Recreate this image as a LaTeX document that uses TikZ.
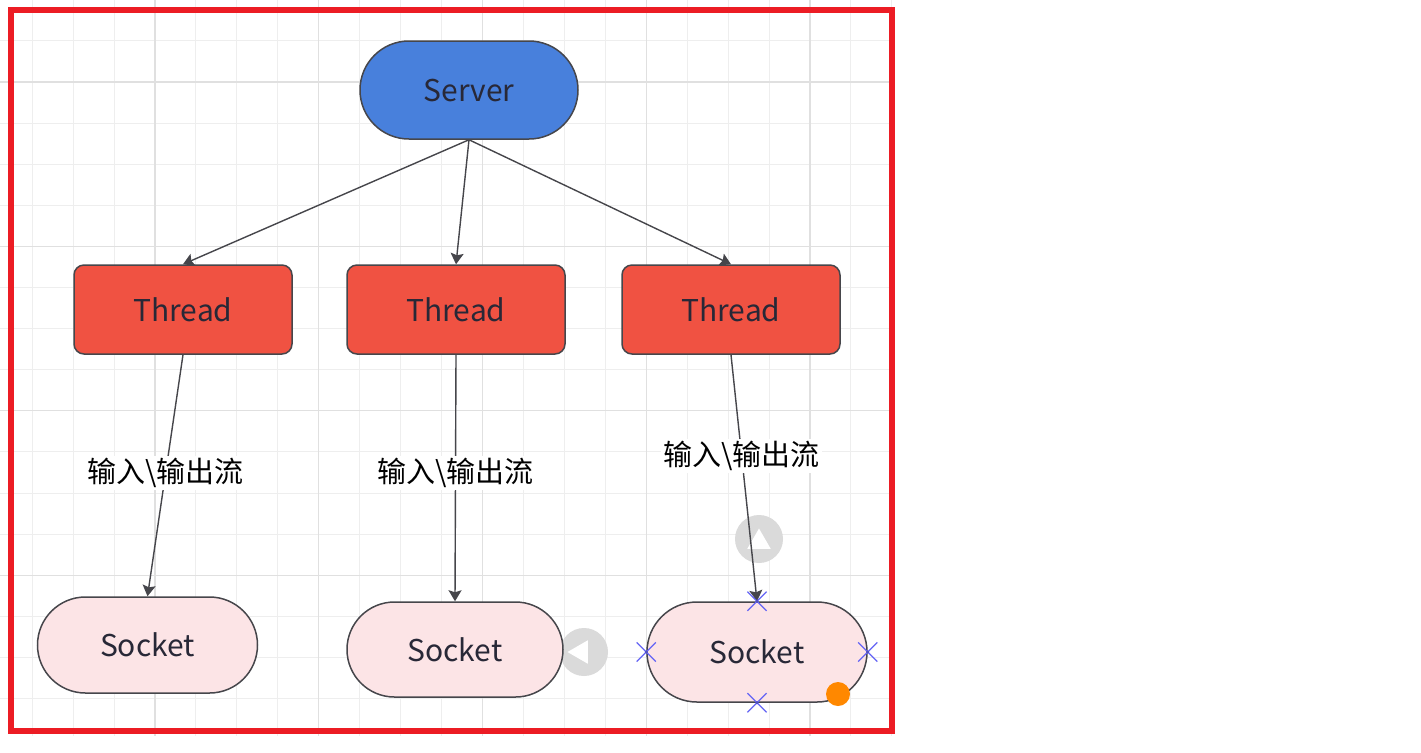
\documentclass[tikz,border=0pt]{standalone}
\usepackage{fontspec}
\setmainfont{Noto Sans CJK SC}
\usetikzlibrary{arrows.meta,shapes.misc,shapes.geometric}
\definecolor{serverblue}{RGB}{72,128,220}
\definecolor{threadred}{RGB}{240,82,66}
\definecolor{socketpink}{RGB}{252,228,230}
\definecolor{edgegray}{RGB}{70,70,75}
\definecolor{textdark}{RGB}{40,40,55}
\definecolor{gridminor}{RGB}{238,238,238}
\definecolor{gridmajor}{RGB}{224,224,224}
\definecolor{borderred}{RGB}{236,28,36}
\definecolor{hintgray}{RGB}{218,218,218}
\definecolor{xblue}{RGB}{100,100,245}
\definecolor{dotorange}{RGB}{255,136,0}
\tikzset{
  base/.style={draw=edgegray, line width=0.75pt, text=textdark, font=\fontsize{15}{18}\selectfont, inner sep=0pt},
  stadium/.style={base, minimum width=109pt, minimum height=#1, rounded corners=#1/2},
  threadbox/.style={base, fill=threadred, minimum width=109pt, minimum height=44.5pt, rounded corners=5pt},
  conn/.style={draw=edgegray, line width=0.7pt, -{Stealth[length=5.5pt,width=6.5pt,inset=1pt]}},
  flowlabel/.style={fill=white, text=black, inner sep=1pt, font=\fontsize{14.5}{16}\selectfont},
  hint/.style={circle, fill=hintgray, minimum size=24pt, inner sep=0pt},
  hinttri/.style={regular polygon, regular polygon sides=3, fill=white, minimum size=13.5pt, inner sep=0pt},
  xmark/.style={cross out, draw=xblue, line width=0.6pt, minimum size=9pt, inner sep=0pt},
  xdot/.style={circle, fill=xblue!80!black, minimum size=1.6pt, inner sep=0pt}
}
\begin{document}
\begin{tikzpicture}[x=0.5pt,y=-0.5pt]
\useasboundingbox (0,0) rectangle (1421,752);
\fill[white] (0,0) rectangle (1421,752);
% grid
\begin{scope}
\clip (0,0) rectangle (893,736);
\foreach \i in {-4,...,18} \draw[gridminor, line width=0.5pt] ({155+40.94*\i},0) -- ({155+40.94*\i},736);
\foreach \j in {-2,...,16} \draw[gridminor, line width=0.5pt] (0,{82+41.1*\j}) -- (893,{82+41.1*\j});
\foreach \i in {-1,...,4} \draw[gridmajor, line width=0.6pt] ({155+163.76*\i},0) -- ({155+163.76*\i},736);
\foreach \j in {0,...,4} \draw[gridmajor, line width=0.6pt] (0,{82+164.4*\j}) -- (893,{82+164.4*\j});
\end{scope}
% hint behind socket 2
\node[hint] (hintleft) at (584,652) {};
\node[hinttri, shape border rotate=90] (hintlefttri) at (581,652) {};
% nodes
\node[stadium=49pt, fill=serverblue] (server) at (469,90) {Server};
\node[threadbox] (t1) at (183,309.5) {Thread};
\node[threadbox] (t2) at (456,309.5) {Thread};
\node[threadbox] (t3) at (731,309.5) {Thread};
\node[stadium=48pt, fill=socketpink, minimum width=110pt] (s1) at (147.5,645) {Socket};
\node[stadium=47.5pt, fill=socketpink, minimum width=108pt] (s2) at (455,649.5) {Socket};
\node[stadium=50pt, fill=socketpink, minimum width=110pt] (s3) at (757,652) {Socket};
% hint above socket 3
\node[hint] (hintup) at (759,539) {};
\node[hinttri] (hintuptri) at (759,542) {};
% connectors
\draw[conn] (server.south) -- (t1.north);
\draw[conn] (server.south) -- (t2.north);
\draw[conn] (server.south) -- (t3.north);
\draw[conn] (t1.south) -- node[flowlabel, pos=0.49] (l1) {输入\textbackslash 输出流} (s1.north);
\draw[conn] (t2.south) -- node[flowlabel, pos=0.48] (l2) {输入\textbackslash 输出流} (s2.north);
\draw[conn] (t3.south) -- node[flowlabel, pos=0.41] (l3) {输入\textbackslash 输出流} (s3.north);
% selection markers on socket 3
\foreach \a in {north,south,west,east}{
  \node[xmark] at (s3.\a) {};
  \node[xdot] at (s3.\a) {};
}
\node[circle, fill=dotorange, minimum size=12pt, inner sep=0pt] (handle) at (838,694) {};
% red frame
\draw[borderred, line width=2.6pt] (11,10) rectangle (892,731);
\end{tikzpicture}
\end{document}
